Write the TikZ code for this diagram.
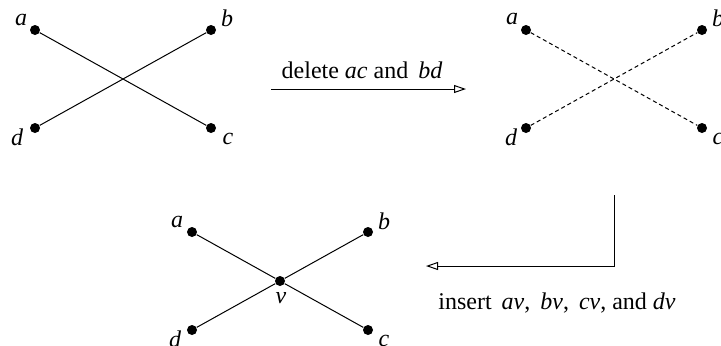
\documentclass[tikz,border=0pt]{standalone}
\usepackage{fontspec}
\setmainfont{Liberation Serif}
\usetikzlibrary{arrows.meta}
\begin{document}
\begin{tikzpicture}[x=0.5pt,y=-0.5pt,
  vert/.style={circle,fill=black,inner sep=0pt,minimum size=5pt},
  lbl/.style={inner sep=0pt,font=\fontsize{12}{14}\selectfont\itshape},
  txt/.style={inner sep=0pt,font=\fontsize{12}{14}\selectfont},
  edge/.style={line width=0.5pt},
  gone/.style={line width=0.5pt,dash pattern=on 2pt off 1.5pt},
  flow/.style={line width=0.5pt,-{Triangle[open,length=6pt,width=4pt]}}]
\useasboundingbox (0,0) rectangle (721,345);
% left graph
\node[vert] (a1) at (35,30) {};
\node[vert] (b1) at (211,30) {};
\node[vert] (d1) at (35,128) {};
\node[vert] (c1) at (211,128) {};
\node[lbl] at (21,20) {a};
\node[lbl] at (227,18) {b};
\node[lbl] at (17,137) {d};
\node[lbl] at (228,139) {c};
\draw[edge] (a1) -- (c1);
\draw[edge] (d1) -- (b1);
% arrow 1
\coordinate (s1) at (271,89);
\coordinate (e1) at (466,89);
\draw[flow] (s1) -- (e1);
\node[txt] (t1) at (362,70) {delete \textit{ac} and \,\textit{bd}};
% right graph
\node[vert] (a2) at (526,30) {};
\node[vert] (b2) at (702,30) {};
\node[vert] (d2) at (526,128) {};
\node[vert] (c2) at (702,128) {};
\node[lbl] at (512,19) {a};
\node[lbl] at (718,18) {b};
\node[lbl] at (511,137) {d};
\node[lbl] at (718,139) {c};
\draw[gone] (a2) -- (c2);
\draw[gone] (d2) -- (b2);
% arrow 2
\coordinate (s2) at (614,195);
\coordinate (m2) at (614,266);
\coordinate (e2) at (426,266);
\draw[flow] (s2) -- (m2) -- (e2);
\node[txt] (t2) at (557,303) {insert \,\textit{av}, \,\textit{bv}, \,\textit{cv}, and \textit{dv}};
% bottom graph
\node[vert] (a3) at (192,232) {};
\node[vert] (b3) at (368,232) {};
\node[vert] (d3) at (192,330) {};
\node[vert] (c3) at (368,330) {};
\node[vert] (v3) at (280,281) {};
\node[lbl] at (177,222) {a};
\node[lbl] at (384,221) {b};
\node[lbl] at (175,339) {d};
\node[lbl] at (384,341) {c};
\node[lbl] at (281,298) {v};
\draw[edge] (a3) -- (v3) -- (c3);
\draw[edge] (d3) -- (v3) -- (b3);
\end{tikzpicture}
\end{document}
